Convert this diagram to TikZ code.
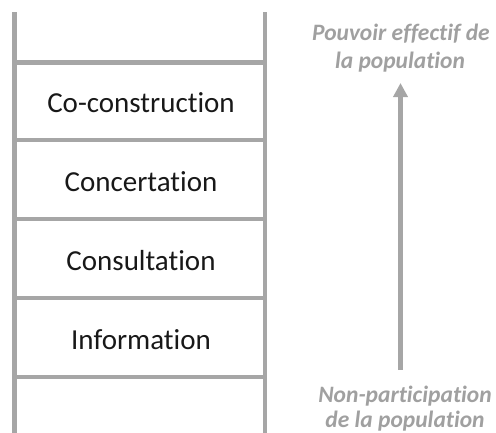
\documentclass[tikz,border=0pt]{standalone}
\usepackage{fontspec}
\setmainfont{Carlito}[Ligatures=NoCommon,RawFeature={-liga}]
\usetikzlibrary{arrows.meta}
\definecolor{railgray}{HTML}{A6A6A6}
\definecolor{notegray}{HTML}{A0A0A0}
\definecolor{inkblack}{HTML}{181818}
\begin{document}
\begin{tikzpicture}[x=1pt,y=-1pt,
  rail/.style={draw=railgray,line width=4.5pt},
  rung/.style={draw=railgray,line width=4.5pt},
  steplabel/.style={anchor=base,inner sep=0pt,text=inkblack,font=\fontsize{29}{34}\selectfont},
  note/.style={anchor=base,inner sep=0pt,text=notegray,font=\fontsize{23.5}{28}\selectfont\bfseries\itshape},
  uparrow/.style={draw=railgray,line width=4.5pt,-{Triangle[width=14pt,length=14pt]}}]
\useasboundingbox (0,0) rectangle (496,432);
% rails
\coordinate (lt) at (14.5,12);
\coordinate (lb) at (14.5,434);
\coordinate (rt) at (265,12);
\coordinate (rb) at (265,434);
\draw[rail] (lt) -- (lb);
\draw[rail] (rt) -- (rb);
% rungs
\foreach \y/\n in {62.5/1,140/2,219/3,298/4,377/5}{
  \coordinate (rl\n) at (14.5,\y);
  \coordinate (rr\n) at (265,\y);
  \draw[rung] (rl\n) -- (rr\n);
}
% step labels
\node[steplabel] (cocon) at (141,112) {Co-construction};
\node[steplabel] (concert) at (141,191) {Concertation};
\node[steplabel] (consult) at (141,270) {Consultation};
\node[steplabel] (info) at (141,349) {Information};
% notes
\node[note] (top1) at (401,40) {Pouvoir effectif de};
\node[note] (top2) at (400,68) {la population};
\node[note] (bot1) at (405,402) {Non-participation};
\node[note] (bot2) at (405,427) {de la population};
% arrow
\coordinate (arrS) at (400.5,370);
\coordinate (arrE) at (400.5,83);
\draw[uparrow] (arrS) -- (arrE);
\end{tikzpicture}
\end{document}
